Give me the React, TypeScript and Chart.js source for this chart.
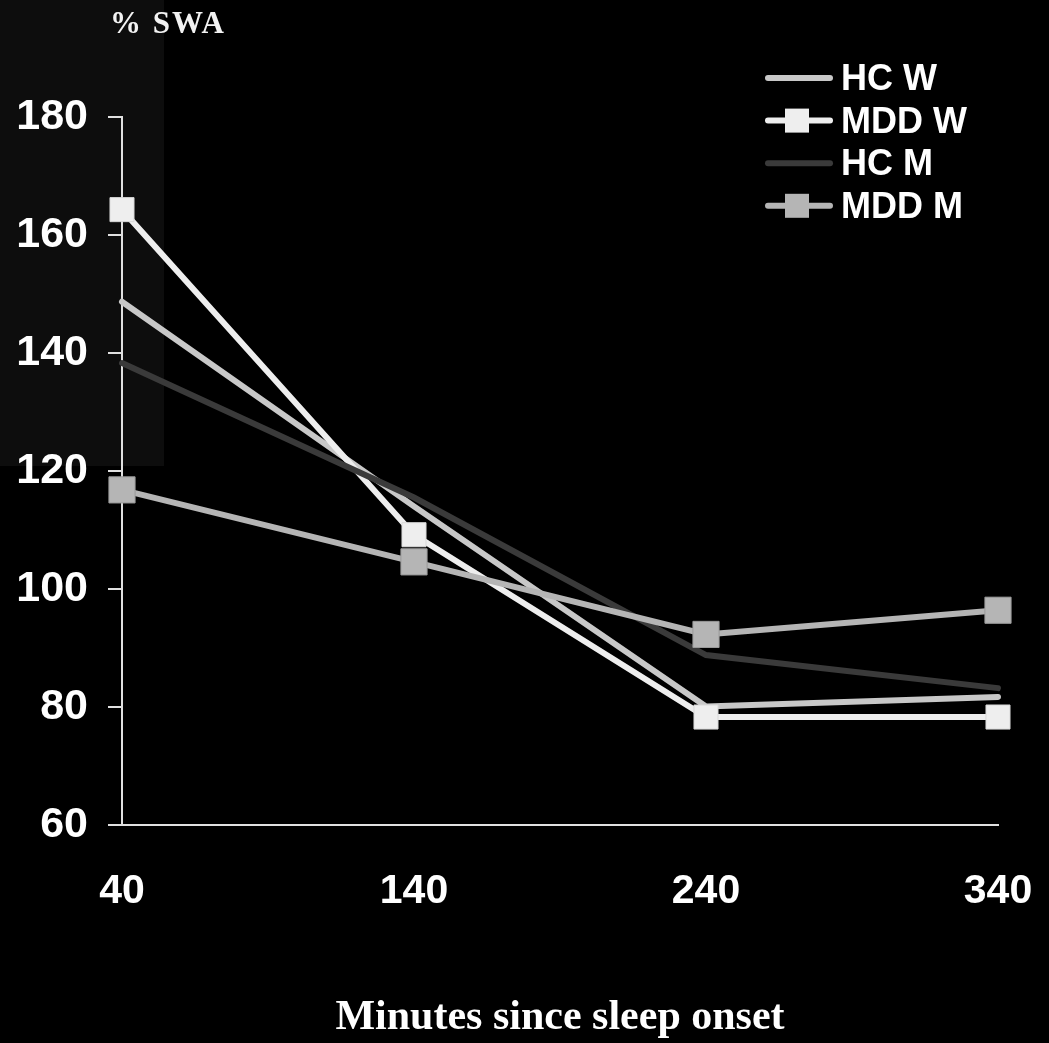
import React, { useEffect, useRef } from "react";
import { Chart, registerables } from "chart.js";

Chart.register(...registerables);

const minutes = [40, 140, 240, 340];
const seriesNames = ["HC W", "MDD W", "HC M", "MDD M"];
const hcW = [148.7, 114.0, 80.1, 81.7];
const mddW = [164.3, 109.2, 78.3, 78.3];
const hcM = [138.3, 115.5, 88.8, 83.2];
const mddM = [116.8, 104.6, 92.3, 96.4];
const yTicks = [60, 80, 100, 120, 140, 160, 180];
const xTicks = [40, 140, 240, 340];
const yTitle = "% SWA";
const xTitle = "Minutes since sleep onset";

const SANS = "'Liberation Sans', Arial, sans-serif";
const SERIF = "'Liberation Serif', 'Times New Roman', serif";

const bgPlugin = {
  id: "bgPlugin",
  beforeDraw(chart: any) {
    const { ctx, width, height } = chart;
    ctx.save();
    ctx.fillStyle = "#000000";
    ctx.fillRect(0, 0, width, height);
    ctx.fillStyle = "#0d0d0d";
    ctx.fillRect(0, 0, 164, 466);
    ctx.restore();
  },
};

const labelsPlugin = {
  id: "labelsPlugin",
  afterDraw(chart: any) {
    const { ctx } = chart;
    ctx.save();
    // y title
    ctx.fillStyle = "#f2f2f2";
    ctx.font = `bold 31px ${SERIF}`;
    ctx.textBaseline = "alphabetic";
    ctx.textAlign = "left";
    try { (ctx as any).letterSpacing = "2px"; } catch (e) {}
    ctx.fillText(yTitle, 110, 33);
    try { (ctx as any).letterSpacing = "0px"; } catch (e) {}
    // legend
    chart.data.datasets.forEach((ds: any, i: number) => {
      const y = 78 + i * 42.6;
      ctx.strokeStyle = ds.borderColor;
      ctx.lineWidth = 6;
      ctx.lineCap = "round";
      ctx.beginPath();
      ctx.moveTo(768, y);
      ctx.lineTo(830, y);
      ctx.stroke();
      if (ds.pointRadius > 0) {
        const s = 24;
        ctx.fillStyle = ds.pointBackgroundColor;
        ctx.fillRect(797 - s / 2, y - s / 2, s, s);
      }
      ctx.fillStyle = "#ffffff";
      ctx.font = `bold 36px ${SANS}`;
      ctx.textBaseline = "middle";
      ctx.textAlign = "left";
      ctx.fillText(ds.label, 841, y + 2);
    });
    ctx.restore();
  },
};

export default function App() {
  const ref = useRef<HTMLCanvasElement | null>(null);
  useEffect(() => {
    if (!ref.current) return;
    const mk = (label: string, data: number[], color: string, radius: number, order: number, pbc?: string) => ({
      label,
      data: minutes.map((m, i) => ({ x: m, y: data[i] })),
      borderColor: color,
      backgroundColor: color,
      borderWidth: 6,
      borderCapStyle: "round",
      borderJoinStyle: "miter",
      pointStyle: "rect",
      pointRadius: radius,
      pointHoverRadius: radius,
      pointBackgroundColor: color,
      pointBorderColor: pbc || color,
      pointBorderWidth: 1,
      tension: 0,
      clip: false,
      order,
    });
    const chart = new Chart(ref.current, {
      type: "line",
      data: {
        datasets: [
          mk(seriesNames[0], hcW, "#c8c8c8", 0, 4),
          mk(seriesNames[1], mddW, "#eeeeee", 17, 3, "#d8d8d8"),
          mk(seriesNames[2], hcM, "#3a3a3a", 0, 2),
          mk(seriesNames[3], mddM, "#b5b5b5", 18.5, 1, "#9a9a9a"),
        ] as any,
      },
      options: {
        responsive: false,
        animation: false,
        events: [],
        layout: { padding: { top: 117, right: 51, bottom: 0, left: 0 } },
        plugins: { legend: { display: false }, tooltip: { enabled: false }, title: { display: false } },
        scales: {
          x: {
            type: "linear",
            min: 40,
            max: 340,
            afterBuildTicks: (scale: any) => { scale.ticks = xTicks.map((v) => ({ value: v })); },
            afterFit: (scale: any) => { scale.height = 218; scale.paddingRight = 0; scale.paddingLeft = 0; },
            grid: { display: false },
            border: { display: true, color: "#e0e0e0", width: 2 },
            ticks: { color: "#ffffff", font: { family: SANS, size: 41, weight: "bold" }, padding: 34, maxRotation: 0, autoSkip: false },
            title: { display: true, text: xTitle, color: "#ffffff", font: { family: SERIF, size: 42, weight: "bold" }, padding: { top: 0, bottom: 0 } },
          },
          y: {
            min: 60,
            max: 180,
            afterBuildTicks: (scale: any) => { scale.ticks = yTicks.map((v) => ({ value: v })); },
            afterFit: (scale: any) => { scale.width = 122; scale.paddingTop = 0; scale.paddingBottom = 0; },
            grid: { display: true, drawOnChartArea: false, drawTicks: true, tickLength: 14, color: "#e0e0e0", lineWidth: 2 },
            border: { display: true, color: "#e0e0e0", width: 2 },
            ticks: { color: "#ffffff", font: { family: SANS, size: 43, weight: "bold" }, padding: 20 },
          },
        },
      } as any,
      plugins: [bgPlugin, labelsPlugin],
    });
    return () => chart.destroy();
  }, []);
  return (
    <div style={{ position: "absolute", left: 0, top: 0, width: 1049, height: 1043, background: "#000" }}>
      <canvas ref={ref} width={1049} height={1043} style={{ display: "block" }} />
    </div>
  );
}
